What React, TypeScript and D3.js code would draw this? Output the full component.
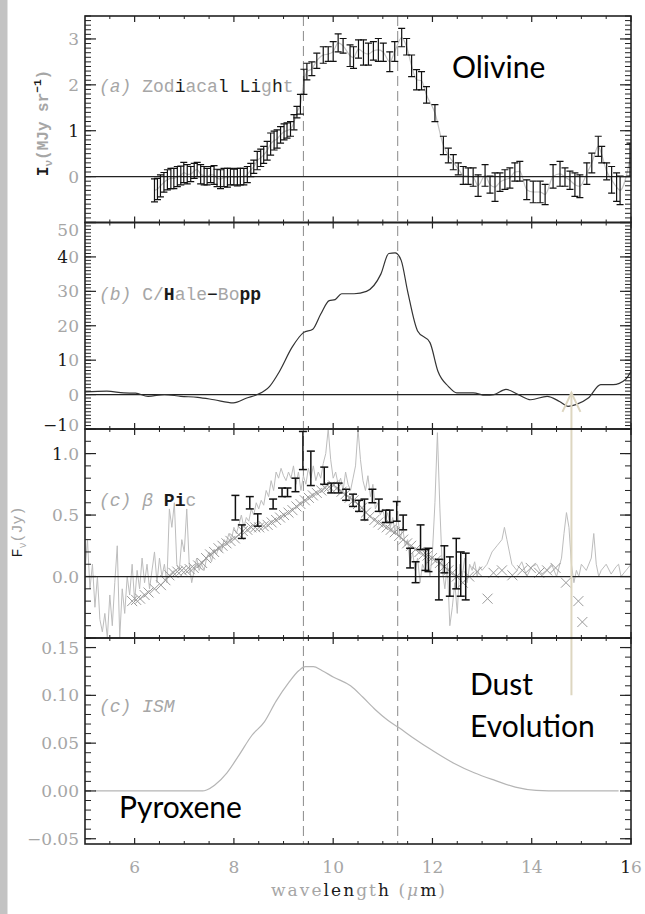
import React from "react";
import * as d3 from "d3";

// ---------------- data ----------------
const X_TICKS = [6, 8, 10, 12, 14, 16];
const X_TICK_LABELS = ["6", "8", "10", "12", "14", "16"];
const FEATURE_WAVES = [9.4, 11.3];
const ARROW_WAVE = 14.8;

// (a) Zodiacal light: error bars
const ZL_WAVE = [6.40, 6.46, 6.52, 6.59, 6.66, 6.73, 6.79, 6.86, 6.93, 6.99, 7.06, 7.13, 7.20, 7.26, 7.33, 7.40, 7.46, 7.53, 7.60, 7.66, 7.73, 7.80, 7.87, 7.93, 8.00, 8.07, 8.13, 8.20, 8.27, 8.34, 8.40, 8.47, 8.54, 8.60, 8.67, 8.74, 8.81, 8.87, 8.94, 9.01, 9.07, 9.14, 9.21, 9.27, 9.34, 9.41, 9.47, 9.57, 9.67, 9.80, 9.90, 10.00, 10.10, 10.20, 10.34, 10.41, 10.51, 10.61, 10.71, 10.81, 10.91, 11.01, 11.14, 11.24, 11.38, 11.48, 11.58, 11.68, 11.78, 11.88, 12.05, 12.22, 12.32, 12.42, 12.52, 12.62, 12.72, 12.82, 12.92, 13.06, 13.16, 13.26, 13.36, 13.46, 13.56, 13.66, 13.76, 13.90, 14.03, 14.17, 14.27, 14.43, 14.57, 14.67, 14.77, 14.87, 14.97, 15.11, 15.21, 15.34, 15.41, 15.51, 15.61, 15.71, 15.78, 15.98];
const ZL_LOW = [-0.55, -0.50, -0.44, -0.34, -0.29, -0.26, -0.26, -0.22, -0.18, -0.13, -0.16, -0.11, -0.04, 0.00, -0.16, -0.18, -0.18, -0.13, -0.17, -0.22, -0.26, -0.22, -0.23, -0.18, -0.18, -0.20, -0.18, -0.18, -0.13, 0.00, 0.07, 0.15, 0.22, 0.29, 0.36, 0.47, 0.58, 0.62, 0.73, 0.80, 0.84, 0.88, 1.02, 1.28, 1.36, 1.79, 2.11, 2.20, 2.36, 2.47, 2.51, 2.51, 2.72, 2.69, 2.40, 2.36, 2.58, 2.43, 2.43, 2.54, 2.51, 2.51, 2.29, 2.51, 2.83, 2.65, 2.18, 1.89, 1.89, 1.60, 1.20, 0.48, 0.30, 0.15, 0.04, -0.17, -0.17, -0.21, -0.43, -0.21, -0.36, -0.54, -0.32, -0.28, -0.25, -0.10, -0.10, -0.50, -0.57, -0.57, -0.61, -0.25, -0.21, -0.21, -0.28, -0.43, -0.46, -0.17, 0.08, 0.44, 0.30, -0.07, -0.36, -0.54, -0.61, 0.01];
const ZL_HIGH = [-0.05, -0.04, 0.04, 0.09, 0.15, 0.18, 0.18, 0.22, 0.23, 0.31, 0.26, 0.22, 0.29, 0.31, 0.26, 0.22, 0.18, 0.22, 0.24, 0.16, 0.15, 0.18, 0.18, 0.18, 0.16, 0.18, 0.18, 0.18, 0.22, 0.29, 0.36, 0.55, 0.60, 0.66, 0.77, 0.95, 0.99, 1.02, 1.09, 1.15, 1.17, 1.20, 1.35, 1.53, 1.79, 2.34, 2.47, 2.50, 2.69, 2.83, 2.83, 2.94, 3.11, 3.01, 2.87, 2.83, 2.98, 2.98, 2.91, 2.94, 3.01, 2.91, 2.72, 2.94, 3.23, 3.01, 2.65, 2.33, 2.29, 1.96, 1.57, 0.88, 0.62, 0.48, 0.30, 0.22, 0.19, 0.19, 0.04, 0.26, 0.01, 0.08, 0.08, 0.15, 0.19, 0.30, 0.33, -0.07, -0.10, -0.10, -0.17, 0.26, 0.33, 0.19, 0.12, 0.08, 0.04, 0.30, 0.51, 0.88, 0.66, 0.30, 0.22, 0.08, 0.01, 0.73];

// (b) Hale-Bopp spectrum
const HB_WAVE = [5.0, 5.44, 5.78, 6.02, 6.27, 6.60, 6.93, 7.27, 7.60, 7.99, 8.26, 8.47, 8.72, 8.92, 9.17, 9.40, 9.59, 9.75, 9.92, 10.04, 10.17, 10.42, 10.67, 10.96, 11.12, 11.25, 11.37, 11.50, 11.70, 11.95, 12.11, 12.32, 12.49, 12.82, 13.07, 13.24, 13.48, 13.73, 13.98, 14.31, 14.56, 14.73, 14.89, 15.14, 15.39, 15.64, 15.89, 16.0];
const HB_FLUX = [0.8, 1.0, 0.5, 0.4, -0.5, 0.0, -0.5, -0.8, -1.5, -2.4, -1.0, 0.0, 2.4, 6.8, 13.7, 18.0, 19.0, 23.4, 27.3, 27.6, 29.3, 29.3, 30.0, 35.0, 41.0, 41.2, 39.0, 30.0, 18.5, 15.1, 6.8, 2.4, 0.5, 0.5, -0.2, 0.0, 1.5, 0.0, -1.5, -0.5, -2.0, -3.4, -2.9, -1.0, 2.9, 2.9, 4.4, 6.8];

// (c) beta Pic: noisy spectrum
const BP_SPEC_WAVE = [5.00, 5.05, 5.10, 5.15, 5.20, 5.25, 5.30, 5.35, 5.40, 5.45, 5.50, 5.55, 5.60, 5.65, 5.70, 5.75, 5.80, 5.85, 5.90, 5.95, 6.00, 6.05, 6.10, 6.15, 6.20, 6.25, 6.30, 6.35, 6.40, 6.45, 6.50, 6.55, 6.60, 6.65, 6.70, 6.75, 6.80, 6.85, 6.90, 6.95, 7.00, 7.05, 7.10, 7.15, 7.20, 7.25, 7.30, 7.35, 7.40, 7.45, 7.50, 7.55, 7.60, 7.65, 7.70, 7.75, 7.80, 7.85, 7.90, 7.95, 8.00, 8.05, 8.10, 8.15, 8.20, 8.25, 8.30, 8.35, 8.40, 8.45, 8.50, 8.55, 8.60, 8.65, 8.70, 8.75, 8.80, 8.85, 8.90, 8.95, 9.00, 9.05, 9.10, 9.15, 9.20, 9.25, 9.30, 9.35, 9.40, 9.45, 9.50, 9.55, 9.60, 9.65, 9.70, 9.75, 9.80, 9.85, 9.90, 9.95, 10.00, 10.05, 10.10, 10.15, 10.20, 10.25, 10.30, 10.35, 10.40, 10.45, 10.50, 10.55, 10.60, 10.65, 10.70, 10.75, 10.80, 10.85, 10.90, 10.95, 11.00, 11.05, 11.10, 11.15, 11.20, 11.25, 11.30, 11.35, 11.40, 11.45, 11.50, 11.55, 11.60, 11.65, 11.70, 11.75, 11.80, 11.85, 11.90, 11.95, 12.00, 12.05, 12.10, 12.15, 12.20, 12.25, 12.30, 12.35, 12.40, 12.45, 12.50, 12.55, 12.60, 12.65, 12.70, 12.75, 12.80, 12.85, 12.90, 12.95, 13.00, 13.10, 13.20, 13.30, 13.40, 13.45, 13.50, 13.55, 13.60, 13.70, 13.80, 13.90, 14.00, 14.10, 14.20, 14.30, 14.40, 14.50, 14.60, 14.65, 14.70, 14.75, 14.80, 14.85, 14.90, 14.95, 15.00, 15.10, 15.20, 15.25, 15.30, 15.35, 15.40, 15.50, 15.60, 15.70, 15.75, 15.80, 15.90, 16.00];
const BP_SPEC_FLUX = [0.05, 0.30, -0.10, 0.10, -0.25, 0.00, -0.35, -0.45, -0.30, -0.50, -0.15, -0.40, -0.05, 0.25, -0.50, -0.10, -0.30, 0.00, -0.15, 0.10, -0.20, 0.05, -0.10, 0.15, -0.05, 0.10, -0.10, 0.05, 0.20, -0.05, 0.15, 0.00, 0.10, -0.05, 0.55, 0.40, 0.60, 0.10, 0.05, 0.30, 0.20, 0.55, 0.10, -0.05, 0.05, 0.15, 0.05, 0.10, 0.05, 0.15, 0.20, 0.12, 0.22, 0.18, 0.25, 0.20, 0.30, 0.28, 0.35, 0.30, 0.40, 0.35, 0.42, 0.50, 0.40, 0.48, 0.45, 0.55, 0.50, 0.60, 0.55, 0.62, 0.58, 0.70, 0.65, 0.78, 0.70, 0.85, 0.80, 0.88, 0.82, 0.78, 0.85, 0.80, 0.90, 0.75, 0.85, 0.70, 0.82, 0.75, 0.88, 0.80, 0.90, 0.78, 0.85, 0.80, 0.92, 1.00, 1.20, 0.95, 0.80, 0.85, 0.75, 0.80, 0.70, 0.85, 0.75, 0.70, 0.80, 0.90, 1.20, 0.95, 0.78, 0.70, 0.82, 0.65, 0.75, 0.55, 0.60, 0.50, 0.55, 0.45, 0.52, 0.40, 0.48, 0.35, 0.50, 0.30, 0.40, 0.25, 0.30, 0.10, 0.20, 0.05, 0.15, -0.05, 0.10, 0.05, 0.15, 0.00, 0.20, 0.60, 1.17, 0.55, 0.05, -0.10, 0.10, -0.40, -0.25, -0.05, -0.30, 0.10, 0.00, 0.15, -0.05, 0.10, 0.05, 0.12, 0.00, 0.08, 0.05, 0.10, 0.20, 0.25, 0.30, 0.40, 0.30, 0.20, 0.10, 0.05, 0.12, 0.00, 0.08, 0.10, 0.02, 0.05, 0.10, 0.00, 0.15, 0.35, 0.52, 0.40, 0.10, -0.05, 0.05, 0.00, 0.10, 0.05, 0.15, 0.35, 0.10, 0.00, 0.05, 0.10, 0.02, 0.08, 0.10, 0.00, 0.05, 0.10];

// (c) beta Pic: model points (crosses)
const BP_MODEL_WAVE = [5.95, 6.03, 6.11, 6.20, 6.28, 6.40, 6.53, 6.62, 6.70, 6.78, 6.86, 6.95, 7.03, 7.11, 7.19, 7.28, 7.36, 7.44, 7.52, 7.60, 7.69, 7.77, 7.85, 7.93, 8.02, 8.10, 8.18, 8.27, 8.35, 8.43, 8.51, 8.60, 8.68, 8.76, 8.85, 8.93, 9.01, 9.10, 9.18, 9.26, 9.34, 9.43, 9.51, 9.59, 9.67, 9.76, 9.84, 9.92, 10.00, 10.08, 10.17, 10.25, 10.33, 10.41, 10.50, 10.58, 10.66, 10.74, 10.83, 10.91, 11.00, 11.08, 11.16, 11.24, 11.33, 11.41, 11.49, 11.57, 11.66, 11.74, 11.82, 11.90, 11.99, 12.07, 12.15, 12.24, 12.32, 12.40, 12.49, 12.61, 12.74, 12.90, 13.11, 13.23, 13.40, 13.61, 13.81, 13.98, 14.15, 14.31, 14.48, 14.69, 14.94, 15.02];
const BP_MODEL_FLUX = [-0.20, -0.19, -0.18, -0.15, -0.13, -0.10, -0.07, -0.03, 0.01, 0.03, 0.04, 0.05, 0.05, 0.06, 0.07, 0.09, 0.11, 0.15, 0.18, 0.20, 0.23, 0.25, 0.27, 0.29, 0.31, 0.34, 0.37, 0.38, 0.40, 0.40, 0.40, 0.41, 0.42, 0.44, 0.46, 0.48, 0.50, 0.52, 0.54, 0.57, 0.59, 0.62, 0.64, 0.66, 0.68, 0.70, 0.72, 0.73, 0.74, 0.72, 0.69, 0.67, 0.64, 0.62, 0.59, 0.56, 0.52, 0.49, 0.46, 0.44, 0.42, 0.40, 0.38, 0.36, 0.33, 0.30, 0.27, 0.25, 0.22, 0.20, 0.18, 0.17, 0.15, 0.13, 0.11, 0.08, 0.05, 0.03, 0.00, -0.05, 0.00, 0.04, -0.18, 0.03, 0.05, 0.01, 0.05, 0.07, 0.03, 0.05, 0.07, -0.05, -0.20, -0.37];

// (c) beta Pic: measured error bars
const BP_BAR_WAVE = [8.03, 8.16, 8.32, 8.48, 8.79, 8.97, 9.08, 9.24, 9.39, 9.55, 9.82, 9.96, 10.11, 10.26, 10.40, 10.52, 10.63, 10.79, 10.92, 11.06, 11.14, 11.28, 11.41, 11.55, 11.66, 11.76, 11.86, 11.92, 12.13, 12.24, 12.35, 12.48, 12.57, 12.67];
const BP_BAR_LOW = [0.46, 0.31, 0.55, 0.41, 0.55, 0.65, 0.65, 0.69, 0.87, 0.74, 0.75, 0.68, 0.68, 0.62, 0.57, 0.53, 0.46, 0.60, 0.53, 0.44, 0.44, 0.45, 0.38, 0.07, -0.05, 0.22, 0.05, 0.04, -0.19, 0.03, -0.16, -0.10, -0.16, -0.19];
const BP_BAR_HIGH = [0.66, 0.42, 0.65, 0.51, 0.63, 0.72, 0.72, 0.80, 1.18, 1.02, 0.89, 0.76, 0.76, 0.71, 0.67, 0.62, 0.63, 0.71, 0.63, 0.54, 0.54, 0.61, 0.50, 0.23, 0.12, 0.42, 0.22, 0.23, 0.14, 0.25, 0.16, 0.31, 0.20, 0.19];

// (d) ISM profile
const ISM_WAVE = [5.2, 6.0, 7.0, 7.37, 7.45, 7.61, 7.86, 8.11, 8.36, 8.61, 8.85, 9.10, 9.31, 9.44, 9.60, 9.77, 10.01, 10.35, 10.60, 10.85, 11.10, 11.33, 11.60, 12.01, 12.43, 12.84, 13.26, 13.67, 14.09, 14.34, 15.0, 15.75];
const ISM_TAU = [0, 0, 0, 0, 0.001, 0.006, 0.019, 0.038, 0.058, 0.072, 0.094, 0.113, 0.126, 0.130, 0.130, 0.126, 0.119, 0.110, 0.098, 0.085, 0.074, 0.066, 0.056, 0.042, 0.029, 0.019, 0.011, 0.004, 0.0005, 0, 0, 0];

// axis ticks per panel
const P1_TICKS = [0, 1, 2, 3];
const P1_LABELS = ["0", "1", "2", "3"];
const P2_TICKS = [-10, 0, 10, 20, 30, 40, 50];
const P2_LABELS = ["\u221210", "0", "10", "20", "30", "40", "50"];
const P3_TICKS = [0, 0.5, 1.0];
const P3_LABELS = ["0.0", "0.5", "1.0"];
const P4_TICKS = [-0.05, 0, 0.05, 0.10, 0.15];
const P4_LABELS = ["\u22120.05", "0.00", "0.05", "0.10", "0.15"];

// ---------------- layout ----------------
const W = 645;
const H = 914;
const X_LEFT = 85;
const X_RIGHT = 631;
const GRAY_TXT = "#a6a6a6";
const DARK_TXT = "#1a1a1a";

const PANELS = [
  { top: 16, bottom: 222.5, domain: [-1, 3.5], major: 1, minor: 0.1, ticks: P1_TICKS, labels: P1_LABELS, dark: [0, 1, 0, 0] },
  { top: 222.5, bottom: 429, domain: [-10, 50], major: 10, minor: 1, ticks: P2_TICKS, labels: P2_LABELS, dark: [2, 0, 1, 0, 0, 1, 0] },
  { top: 429, bottom: 638, domain: [-0.5, 1.2], major: 0.5, minor: 0.1, ticks: P3_TICKS, labels: P3_LABELS, dark: [0, 0, 1] },
  { top: 638, bottom: 844, domain: [-0.0555, 0.16], major: 0.05, minor: 0.01, ticks: P4_TICKS, labels: P4_LABELS, dark: [0, 0, 0, 0, 0] },
];

function stepValues(d0: number, d1: number, step: number) {
  const out: number[] = [];
  const k0 = Math.ceil(d0 / step - 1e-6);
  const k1 = Math.floor(d1 / step + 1e-6);
  for (let k = k0; k <= k1; k++) out.push(+(k * step).toFixed(6));
  return out;
}

function MixedText({ text, dark }: { text: string; dark: number }) {
  return (
    <>
      {dark > 0 && <tspan fill={DARK_TXT}>{text.slice(0, dark)}</tspan>}
      <tspan>{text.slice(dark)}</tspan>
    </>
  );
}

export default function App() {
  const x = d3.scaleLinear().domain([5, 16]).range([X_LEFT, X_RIGHT]);
  const ys = PANELS.map((p) => d3.scaleLinear().domain(p.domain).range([p.bottom, p.top]));
  const [y1, y2, y3, y4] = ys;

  const xMajor = X_TICKS;
  const xMinor = stepValues(5.5, 15.5, 0.5).filter((v) => !xMajor.includes(v));

  const zlCenters = ZL_WAVE.map((w, i) => [w, (ZL_LOW[i] + ZL_HIGH[i]) / 2] as [number, number]);
  const zlLine = d3.line<[number, number]>().x((d) => x(d[0])).y((d) => y1(d[1])).curve(d3.curveMonotoneX);
  const hbLine = d3.line<number>().x((_, i) => x(HB_WAVE[i])).y((d) => y2(d)).curve(d3.curveMonotoneX);
  const bpLine = d3.line<number>().x((_, i) => x(BP_SPEC_WAVE[i])).y((d) => y3(d));
  const ismLine = d3.line<number>().x((_, i) => x(ISM_WAVE[i])).y((d) => y4(d)).curve(d3.curveMonotoneX);

  const serif = "'DejaVu Serif', serif";
  const mono = "'Liberation Mono', monospace";
  const sans = "Lato, 'Open Sans', sans-serif";

  const arrowTop = y2(0.5);
  const arrowBottom = y4(0.1);
  const ax = x(ARROW_WAVE);

  return (
    <svg width={W} height={H} style={{ position: "absolute", left: 0, top: 0, background: "#fff" }}>
      <rect x={0} y={0} width={W} height={H} fill="#fff" />
      <rect x={0} y={0} width={7.5} height={H} fill="#c3c3c3" />
      <defs>
        {PANELS.map((p, i) => (
          <clipPath id={`clip${i}`} key={i}>
            <rect x={X_LEFT} y={p.top} width={X_RIGHT - X_LEFT} height={p.bottom - p.top} />
          </clipPath>
        ))}
      </defs>

      {/* feature lines */}
      {FEATURE_WAVES.map((w) => (
        <line key={w} x1={x(w)} x2={x(w)} y1={PANELS[0].top} y2={PANELS[3].bottom} stroke="#8a8a8a" strokeWidth={1} strokeDasharray="10 5" />
      ))}

      {/* panel a */}
      <g clipPath="url(#clip0)">
        <path d={zlLine(zlCenters) || ""} fill="none" stroke="#c4c4c4" strokeWidth={1.2} />
        <line x1={X_LEFT} x2={X_RIGHT} y1={y1(0)} y2={y1(0)} stroke="#222" strokeWidth={1.3} />
        {ZL_WAVE.map((w, i) => {
          const cx = x(w);
          const a = y1(ZL_LOW[i]);
          const b = y1(ZL_HIGH[i]);
          return (
            <g key={i} stroke="#111" strokeWidth={1.2}>
              <line x1={cx} x2={cx} y1={a} y2={b} />
              <line x1={cx - 3.5} x2={cx + 3.5} y1={a} y2={a} />
              <line x1={cx - 3.5} x2={cx + 3.5} y1={b} y2={b} />
            </g>
          );
        })}
      </g>

      {/* panel b */}
      <g clipPath="url(#clip1)">
        <line x1={X_LEFT} x2={X_RIGHT} y1={y2(0)} y2={y2(0)} stroke="#222" strokeWidth={1.3} />
        <path d={hbLine(HB_FLUX) || ""} fill="none" stroke="#333" strokeWidth={1.2} />
      </g>

      {/* panel c */}
      <g clipPath="url(#clip2)">
        <path d={bpLine(BP_SPEC_FLUX) || ""} fill="none" stroke="#bdbdbd" strokeWidth={1} />
        {BP_MODEL_WAVE.map((w, i) => {
          const cx = x(w);
          const cy = y3(BP_MODEL_FLUX[i]);
          return (
            <path key={i} d={`M${cx - 5},${cy - 5}L${cx + 5},${cy + 5}M${cx - 5},${cy + 5}L${cx + 5},${cy - 5}`} stroke="#9a9a9a" strokeWidth={1} />
          );
        })}
        <line x1={X_LEFT} x2={X_RIGHT} y1={y3(0)} y2={y3(0)} stroke="#222" strokeWidth={1.3} />
        {BP_BAR_WAVE.map((w, i) => {
          const cx = x(w);
          const a = y3(BP_BAR_LOW[i]);
          const b = y3(BP_BAR_HIGH[i]);
          return (
            <g key={i} stroke="#111" strokeWidth={1.5}>
              <line x1={cx} x2={cx} y1={a} y2={b} />
              <line x1={cx - 4} x2={cx + 4} y1={a} y2={a} />
              <line x1={cx - 4} x2={cx + 4} y1={b} y2={b} />
            </g>
          );
        })}
      </g>

      {/* panel d */}
      <g clipPath="url(#clip3)">
        <path d={ismLine(ISM_TAU) || ""} fill="none" stroke="#b5b5b5" strokeWidth={1.2} />
      </g>

      {/* arrow annotation */}
      <g stroke="#ddd6c0" strokeWidth={2} fill="none">
        <line x1={ax} x2={ax} y1={arrowTop} y2={arrowBottom} />
        <path d={`M${ax - 9},${arrowTop + 19}L${ax},${arrowTop}L${ax + 9},${arrowTop + 19}`} />
      </g>

      {/* frames and ticks */}
      {PANELS.map((p, i) => {
        const y = ys[i];
        const majors = stepValues(p.domain[0], p.domain[1], p.major);
        const minors = stepValues(p.domain[0], p.domain[1], p.minor);
        return (
          <g key={i} stroke="#222">
            <rect x={X_LEFT} y={p.top} width={X_RIGHT - X_LEFT} height={p.bottom - p.top} fill="none" strokeWidth={1.6} />
            {minors.map((v) => (
              <g key={`m${v}`} strokeWidth={1}>
                <line x1={X_LEFT} x2={X_LEFT + 6} y1={y(v)} y2={y(v)} />
                <line x1={X_RIGHT} x2={X_RIGHT - 6} y1={y(v)} y2={y(v)} />
              </g>
            ))}
            {majors.map((v) => (
              <g key={`M${v}`} strokeWidth={1.2}>
                <line x1={X_LEFT} x2={X_LEFT + 11} y1={y(v)} y2={y(v)} />
                <line x1={X_RIGHT} x2={X_RIGHT - 11} y1={y(v)} y2={y(v)} />
              </g>
            ))}
            {xMinor.map((v) => (
              <g key={`xm${v}`} strokeWidth={1}>
                <line x1={x(v)} x2={x(v)} y1={p.top} y2={p.top + 3} />
                <line x1={x(v)} x2={x(v)} y1={p.bottom} y2={p.bottom - 3} />
              </g>
            ))}
            {xMajor.map((v) => (
              <g key={`xM${v}`} strokeWidth={1.2}>
                <line x1={x(v)} x2={x(v)} y1={p.top} y2={p.top + 6} />
                <line x1={x(v)} x2={x(v)} y1={p.bottom} y2={p.bottom - 6} />
              </g>
            ))}
          </g>
        );
      })}

      {/* y tick labels */}
      {PANELS.map((p, i) =>
        p.ticks.map((v, j) => {
          let ty = ys[i](v);
          ty = Math.max(p.top + 7, Math.min(p.bottom - 4, ty));
          return (
            <text key={`${i}-${j}`} x={79} y={ty} dy="0.36em" textAnchor="end" fontFamily={serif} fontSize={17} fill={GRAY_TXT}>
              <MixedText text={p.labels[j]} dark={p.dark[j]} />
            </text>
          );
        })
      )}

      {/* x tick labels */}
      {X_TICKS.map((v, j) => (
        <text key={v} x={x(v)} y={873} textAnchor="middle" fontFamily={serif} fontSize={17} fill={GRAY_TXT}>
          <MixedText text={X_TICK_LABELS[j]} dark={v === 16 ? 1 : 0} />
        </text>
      ))}
      <text x={(X_LEFT + X_RIGHT) / 2} y={896} textAnchor="middle" fontFamily={serif} fontSize={17} fill={GRAY_TXT} textLength={174} lengthAdjust="spacing">
        wave<tspan fill={DARK_TXT}>len</tspan>gt<tspan fill={DARK_TXT}>h</tspan> (<tspan fontStyle="italic">μ</tspan><tspan fill={DARK_TXT}>m</tspan>)
      </text>

      {/* y titles */}
      <text transform="translate(48,123) rotate(-90)" textAnchor="middle" fontFamily={mono} fontSize={16} fill={GRAY_TXT} fontWeight="bold">
        <tspan fill={DARK_TXT}>I</tspan>
        <tspan fontSize={11} dy={4}>ν</tspan>
        <tspan dy={-4}>(MJy sr</tspan>
        <tspan fontSize={11} dy={-7} fill={DARK_TXT}>−1</tspan>
        <tspan dy={7}>)</tspan>
      </text>
      <text transform="translate(22,532) rotate(-90)" textAnchor="middle" fontFamily={mono} fontSize={15} fill={GRAY_TXT}>
        <tspan fill={DARK_TXT}>F</tspan>
        <tspan fontSize={10} dy={4}>ν</tspan>
        <tspan dy={-4}>(Jy)</tspan>
      </text>

      {/* panel labels */}
      <text x={99} y={92} fontFamily={mono} fontSize={18} fill={GRAY_TXT}>
        <tspan fontStyle="italic">(a)</tspan> Zod<tspan fill={DARK_TXT}>i</tspan>aca<tspan fill={DARK_TXT}>l</tspan> <tspan fill={DARK_TXT}>Li</tspan>g<tspan fill={DARK_TXT}>h</tspan>t
      </text>
      <text x={99} y={300} fontFamily={mono} fontSize={18} fill={GRAY_TXT}>
        <tspan fontStyle="italic">(b)</tspan> C/<tspan fill={DARK_TXT} fontWeight="bold">H</tspan>ale<tspan fill={DARK_TXT}>−</tspan>Bo<tspan fill={DARK_TXT} fontWeight="bold">pp</tspan>
      </text>
      <text x={99} y={506} fontFamily={mono} fontSize={18} fill={GRAY_TXT}>
        <tspan fontStyle="italic">(c) β</tspan> <tspan fill={DARK_TXT} fontWeight="bold">Pi</tspan>c
      </text>
      <text x={99} y={712} fontFamily={mono} fontSize={18} fill={GRAY_TXT} fontStyle="italic">
        (c) ISM
      </text>

      {/* annotations */}
      <text x={452} y={78} fontFamily={sans} fontSize={30} fill="#000">Olivine</text>
      <text x={470} y={695} fontFamily={sans} fontSize={30} fill="#000">Dust</text>
      <text x={470} y={737} fontFamily={sans} fontSize={30} fill="#000">Evolution</text>
      <text x={119} y={818} fontFamily={sans} fontSize={30} fill="#000">Pyroxene</text>
    </svg>
  );
}
